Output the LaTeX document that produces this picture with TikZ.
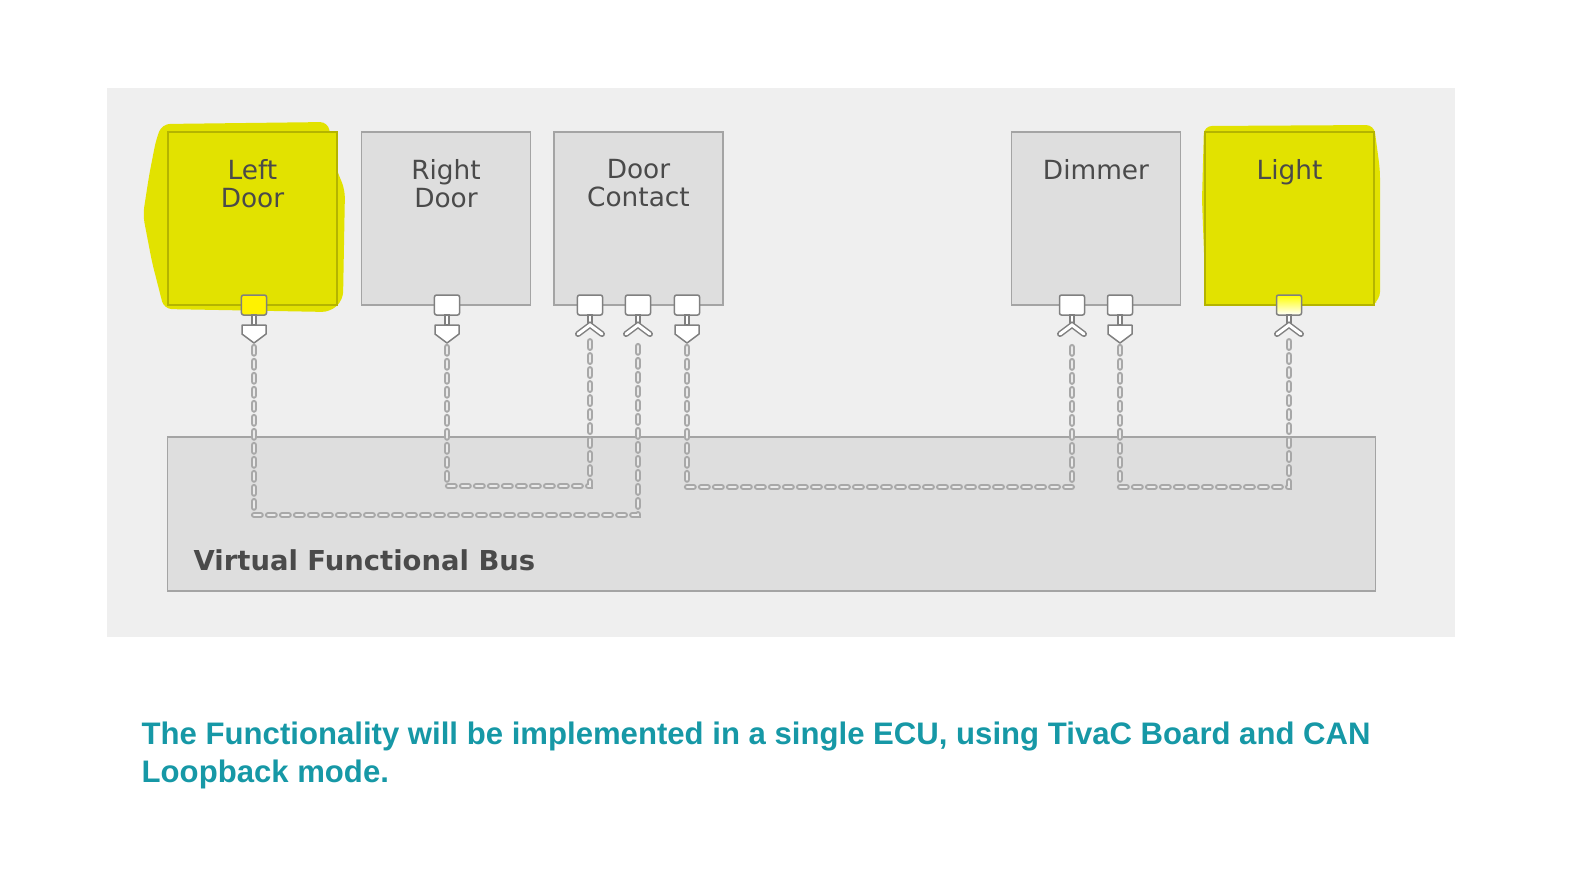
\documentclass[tikz,border=0pt]{standalone}
\usepackage{fontspec}
\setmainfont{Liberation Sans}
\newfontfamily\verd{DejaVu Sans}
\usetikzlibrary{positioning, calc}

\definecolor{panelgray}{HTML}{EFEFEF}
\definecolor{boxgray}{HTML}{DEDEDE}
\definecolor{edgegray}{HTML}{A4A4A4}
\definecolor{hiyellow}{HTML}{E2E200}
\definecolor{edgeyellow}{HTML}{B4B400}
\definecolor{labelgray}{HTML}{4A4A4A}
\definecolor{chaingray}{HTML}{A8A8A8}
\definecolor{chainfill}{HTML}{EAEAEA}
\definecolor{noteteal}{RGB}{22,152,166}

\tikzset{
  swc/.style={rectangle, draw=edgegray, fill=boxgray, line width=0.015cm, minimum width=1.69cm, minimum height=1.73cm, inner sep=0pt, outer sep=0pt},
  swcyellow/.style={swc, draw=edgeyellow, fill=hiyellow},
  swctext/.style={font=\verd\fontsize{7.5}{7.9}\selectfont, text=labelgray, align=center, inner sep=0pt},
  portbox/.style={rectangle, draw=gray, fill=white, line width=0.015cm, rounded corners=0.02cm, minimum width=0.25cm, minimum height=0.2cm, inner sep=0pt, outer sep=0pt},
  chain/.style={draw=chaingray, double=chainfill, line width=0.018cm, double distance=0.028cm, line cap=round, dash pattern=on 0.065cm off 0.075cm},
  prov/.pic={
    \draw[draw=gray, fill=white, line width=0.012cm] (-2,0) rectangle (2,10);
    \draw[draw=gray, fill=white, line width=0.015cm, line join=round] (-12,10) -- (12,10) -- (12,19) -- (0,28) -- (-12,19) -- cycle;
  },
  recv/.pic={
    \draw[draw=gray, fill=white, line width=0.012cm] (-2,0) rectangle (2,11);
    \draw[gray, line width=0.06cm, line cap=round] (-12,19) -- (0,10) -- (12,19);
    \draw[white, line width=0.03cm, line cap=round] (-12,19) -- (0,10) -- (12,19);
  }
}

\begin{document}
\begin{tikzpicture}[x=0.01cm, y=-0.01cm]
\useasboundingbox (0,0) rectangle (1593,893);
% background panel
\fill[panelgray] (107,88) rectangle (1455,637);

% yellow highlights
\fill[hiyellow, rounded corners=0.08cm] (162,124) -- (328,122) -- (336,168) -- (345,190) -- (343,300) -- (330,312) -- (164,309) -- (152,262) -- (143,215) -- (149,176) -- (156,140) -- cycle;
\fill[hiyellow, rounded corners=0.08cm] (1204,126) -- (1374,125) -- (1380,170) -- (1380,300) -- (1370,306) -- (1206,305) -- (1202,200) -- cycle;

% software components
\node[swcyellow] (ld) at (252.5,218.5) {};
\node[swc] (rd) at (446,218.5) {};
\node[swc] (dc) at (638.5,218.5) {};
\node[swc] (dm) at (1096,218.5) {};
\node[swcyellow] (lt) at (1289.5,218.5) {};

\node[swctext, below=0.27cm of ld.north] (ld-t) {Left\\Door};
\node[swctext, below=0.27cm of rd.north] (rd-t) {Right\\Door};
\node[swctext, below=0.27cm of dc.north] (dc-t) {Door\\Contact};
\node[swctext, below=0.27cm of dm.north] (dm-t) {Dimmer};
\node[swctext, below=0.27cm of lt.north] (lt-t) {Light};

% bus
\node[swc, minimum width=12.07cm, minimum height=1.54cm] (vfb) at (771.5,514) {};
\node[font=\verd\bfseries\fontsize{7.8}{9}\selectfont, text=labelgray, anchor=west, inner sep=0pt] (vfb-t) at (193,560) {Virtual Functional Bus};

% ports
\node[portbox, fill=yellow] (ldp) at (254,305) {};
\node[portbox] (rdp) at (447,305) {};
\node[portbox] (dca) at (590,305) {};
\node[portbox] (dcb) at (638,305) {};
\node[portbox] (dcc) at (687,305) {};
\node[portbox] (dma) at (1072,305) {};
\node[portbox] (dmb) at (1120,305) {};
\node[portbox, top color=yellow, bottom color=white] (ltp) at (1289,305) {};

% connections
\draw[chain] ($(ldp.south)+(0,32)$) |- ($(dcb.south)+(0,200)$) -- ($(dcb.south)+(0,26)$);
\draw[chain] ($(rdp.south)+(0,32)$) |- ($(dca.south)+(0,171)$) -- ($(dca.south)+(0,26)$);
\draw[chain] ($(dcc.south)+(0,32)$) |- ($(dma.south)+(0,172)$) -- ($(dma.south)+(0,26)$);
\draw[chain] ($(dmb.south)+(0,32)$) |- ($(ltp.south)+(0,172)$) -- ($(ltp.south)+(0,26)$);

\pic at (ldp.south) {prov};
\pic at (rdp.south) {prov};
\pic at (dca.south) {recv};
\pic at (dcb.south) {recv};
\pic at (dcc.south) {prov};
\pic at (dma.south) {recv};
\pic at (dmb.south) {prov};
\pic at (ltp.south) {recv};

% note
\node[font=\bfseries\fontsize{8.85}{10.9}\selectfont, text=noteteal, align=left, anchor=north west, inner sep=0pt] (note) at (141,721) {The Functionality will be implemented in a single ECU, using TivaC Board and CAN\\Loopback mode.};
\end{tikzpicture}
\end{document}
